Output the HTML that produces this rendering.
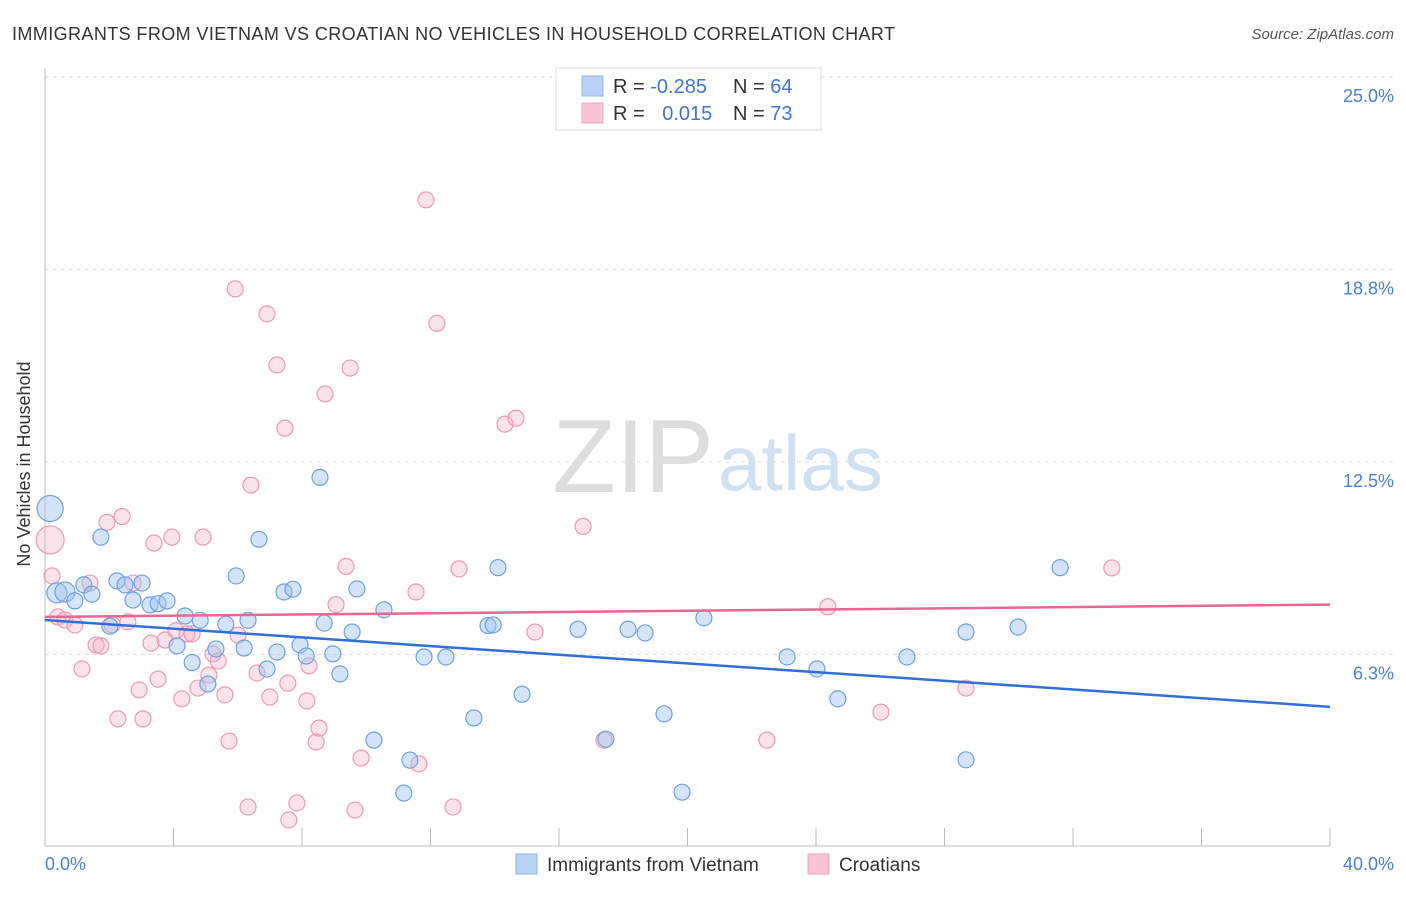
<!DOCTYPE html>
<html><head><meta charset="utf-8"><style>
body{margin:0;background:#fff;font-family:"Liberation Sans",sans-serif;}
svg text{font-family:"Liberation Sans",sans-serif;}
</style></head><body>
<svg id="chart" width="1406" height="892">
<text x="12" y="40" font-size="18" fill="#333" textLength="883">IMMIGRANTS FROM VIETNAM VS CROATIAN NO VEHICLES IN HOUSEHOLD CORRELATION CHART</text>
<text x="1394" y="39" font-size="15" fill="#555" font-style="italic" text-anchor="end">Source: ZipAtlas.com</text>
<g id="grid"></g>
<text x="714" y="492" font-size="104" fill="#ddd" font-family="Liberation Serif" text-anchor="end">ZIP</text>
<text x="718" y="490" font-size="78" fill="#cfe0f3">atlas</text>
<line x1="45" y1="68" x2="45" y2="846" stroke="#bbb"/>
<line x1="45" y1="846" x2="1330" y2="846" stroke="#bbb"/>
<g id="xticks"></g>
<g id="pts"></g>
<g id="trends"></g>
<text x="22" y="456" font-size="18" fill="#333" transform="rotate(-90 30 456)" text-anchor="middle">No Vehicles in Household</text>
<text x="45" y="870" font-size="18" fill="#4a7fd4">0.0%</text>
<text x="1394" y="870" font-size="18" fill="#4a7fd4" text-anchor="end">40.0%</text>
<g>
<rect x="556" y="68" width="265" height="62" fill="#fff" stroke="#ddd"/>
<rect x="582" y="76" width="21" height="20" fill="#b8d3f5" stroke="#8fb4e6"/>
<rect x="582" y="103" width="21" height="20" fill="#f9c5d5" stroke="#eba4bb"/>
<text x="613" y="93" font-size="20" fill="#333">R = <tspan fill="#3f74d0">-0.285</tspan></text>
<text x="733" y="93" font-size="20" fill="#333">N = <tspan fill="#3f74d0">64</tspan></text>
<text x="613" y="120" font-size="20" fill="#333">R = <tspan fill="#3f74d0" dx="12">0.015</tspan></text>
<text x="733" y="120" font-size="20" fill="#333">N = <tspan fill="#3f74d0">73</tspan></text>
</g>
<g>
<rect x="516" y="854" width="21" height="20" fill="#b8d3f5" stroke="#8fb4e6"/>
<text x="547" y="871" font-size="19" fill="#333">Immigrants from Vietnam</text>
<rect x="808" y="854" width="21" height="20" fill="#f9c5d5" stroke="#eba4bb"/>
<text x="839" y="871" font-size="19" fill="#333">Croatians</text>
</g>
</svg>
<script>
const yTicks=[6.25,12.5,18.75,25];
const yTickLabels=["6.3%","12.5%","18.8%","25.0%"];
const blueX=[0.16,0.37,0.62,1.21,1.74,0.93,1.46,2.02,2.24,2.49,2.74,3.02,3.27,3.52,3.8,4.11,4.36,4.58,4.83,5.07,5.32,5.63,5.95,6.2,6.32,6.66,6.91,7.22,7.44,7.72,7.94,8.13,8.56,8.69,8.96,9.18,9.56,9.71,10.24,10.55,11.17,11.36,11.8,12.48,13.35,13.79,13.95,14.1,14.85,16.59,17.46,18.15,18.68,19.27,19.83,20.51,23.1,24.03,24.68,26.83,28.67,28.67,30.29,31.6];
const blueY=[10.99,8.25,8.28,8.51,10.06,7.99,8.21,7.17,8.64,8.51,8.02,8.57,7.86,7.9,7.99,6.53,7.5,5.99,7.36,5.29,6.43,7.23,8.8,6.46,7.36,9.99,5.78,6.33,8.28,8.37,6.56,6.2,12.0,7.27,6.27,5.62,6.98,8.38,3.47,7.7,1.75,2.82,6.17,6.17,4.19,7.19,7.21,9.07,4.96,7.07,3.50,7.07,6.95,4.32,1.78,7.44,6.17,5.78,4.81,6.17,6.98,2.83,7.14,9.07];
const pinkX=[0.16,0.22,0.4,0.62,0.93,1.15,1.4,1.59,1.74,1.93,2.09,2.27,2.4,2.58,2.74,2.93,3.05,3.3,3.39,3.52,3.74,3.95,4.08,4.26,4.42,4.58,4.76,4.92,5.1,5.23,5.39,5.6,5.73,5.92,6.01,6.32,6.41,6.6,6.91,7.0,7.22,7.47,7.56,7.59,7.84,8.15,8.22,8.44,8.53,8.72,9.06,9.37,9.5,9.65,9.84,11.55,11.64,11.86,12.2,12.7,12.89,14.32,14.66,15.25,16.75,17.4,22.47,24.37,26.02,28.67,33.21];
const pinkY=[9.97,8.80,7.47,7.37,7.21,5.78,8.57,6.56,6.53,10.54,7.21,4.16,10.73,7.31,8.57,5.10,4.16,6.62,9.87,5.45,6.72,10.06,7.02,4.81,6.92,6.92,5.16,10.06,5.58,6.27,6.04,4.94,3.44,18.12,6.88,1.30,11.75,5.65,17.31,4.87,15.65,13.60,5.32,0.88,1.43,4.74,5.88,3.41,3.86,14.71,7.87,9.11,15.55,1.20,2.89,8.28,2.70,21.01,17.0,1.30,9.03,13.73,13.92,6.98,10.41,3.47,3.47,7.8,4.38,5.16,9.06];
const blueTrend=[[0,7.37],[40,4.55]];
const pinkTrend=[[0,7.47],[40,7.87]];
const NS="http://www.w3.org/2000/svg";
const X=v=>45+v*32.125, Y=v=>847-v*30.8;
function mk(t,a,p){const e=document.createElementNS(NS,t);for(const k in a)e.setAttribute(k,a[k]);p.appendChild(e);return e;}
const grid=document.getElementById('grid');
yTicks.forEach((t,i)=>{
 const l=mk('line',{x1:45,x2:1394,y1:Y(t),y2:Y(t),stroke:'#ddd','stroke-dasharray':'4,4'},grid);
 
 
 const tx=mk('text',{x:1394,y:Y(t)+25,'font-size':18,fill:'#4a7fd4','text-anchor':'end'},grid);
 tx.textContent=yTickLabels[i];
 
 
});
const xt=document.getElementById('xticks');
for(let i=1;i<=10;i++){const l=mk('line',{x1:X(i*4),x2:X(i*4),y1:828,y2:846,stroke:'#bbb'},xt);
 
 }
const pts=document.getElementById('pts');
pinkX.forEach((x,i)=>{const c=mk('circle',{cx:X(x),cy:Y(pinkY[i]),r:i==0?14:8,fill:'rgba(246,172,196,0.35)',stroke:'#eb9ab5','stroke-width':1.2},pts);
 
 });
blueX.forEach((x,i)=>{const c=mk('circle',{cx:X(x),cy:Y(blueY[i]),r:i==0?13:(i<3?10:8),fill:'rgba(160,196,240,0.45)',stroke:'#6e9fe0','stroke-width':1.2},pts);
 
 });
const tr=document.getElementById('trends');
const bl=mk('line',{x1:X(blueTrend[0][0]),y1:Y(blueTrend[0][1]),x2:X(blueTrend[1][0]),y2:Y(blueTrend[1][1]),stroke:'#2f6fd6','stroke-width':2.5},tr);


const pl=mk('line',{x1:X(pinkTrend[0][0]),y1:Y(pinkTrend[0][1]),x2:X(pinkTrend[1][0]),y2:Y(pinkTrend[1][1]),stroke:'#e9668f','stroke-width':2.5},tr);


</script>
</body></html>
